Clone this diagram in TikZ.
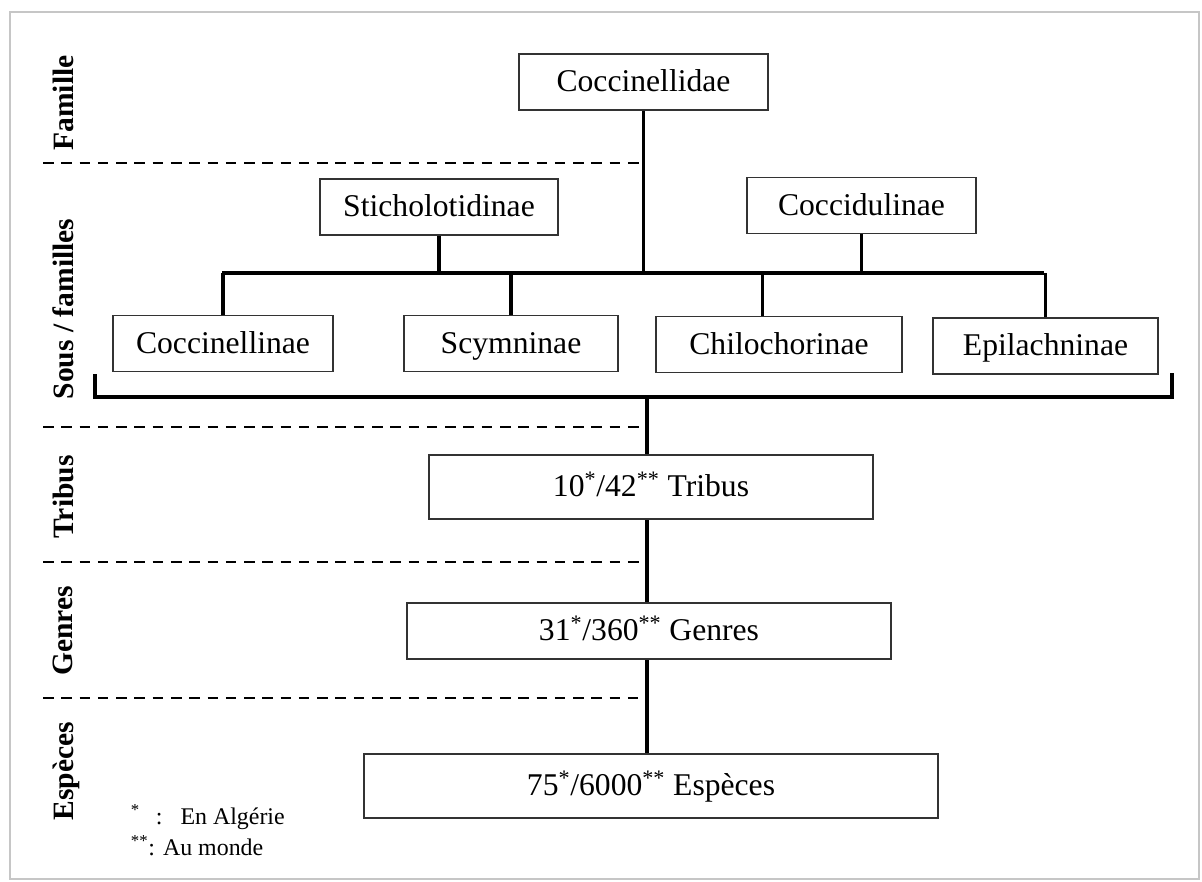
\documentclass[tikz,border=0pt]{standalone}
\usepackage{fontspec}
\setmainfont{Liberation Serif}
\usetikzlibrary{positioning}

\begin{document}
\begin{tikzpicture}[x=0.025cm, y=-0.025cm,
  taxon/.style={draw=black!80, line width=1.4pt, fill=white, inner sep=0pt,
    text height=17pt, text depth=3pt,
    minimum height=1.4cm, font=\fontsize{22.5}{26}\selectfont},
  rank/.style={rotate=90, font=\fontsize{21}{24}\selectfont\bfseries},
  link/.style={line width=2.2pt, black},
  sep/.style={line width=1.4pt, dash pattern=on 7.5pt off 5.5pt}]
\useasboundingbox (0,0) rectangle (1202,881);
\draw[gray!45, line width=2pt] (10,12) rectangle (1199,879);

% Rank labels
\node[rank] (lfam) at (63,103) {Famille};
\node[rank] (lsous) at (63,309) {Sous / familles};
\node[rank] (ltrib) at (63,497) {Tribus};
\node[rank] (lgen) at (63,631) {Genres};
\node[rank] (lesp) at (66,771) {Espèces};

% Rank separators
\draw[sep] (43,163) -- (643,163);
\draw[sep] (43,427) -- (647,427);
\draw[sep] (43,562) -- (647,562);
\draw[sep] (43,698) -- (638,698);

% Family and subfamilies
\node[taxon, minimum width=6.225cm] (coccinellidae) at (643.5,82) {Coccinellidae};
\node[taxon, minimum width=5.95cm] (sticholotidinae) at (439,207) {Sticholotidinae};
\node[taxon, minimum width=5.725cm] (coccidulinae) at (861.5,205.5) {Coccidulinae};
\node[taxon, minimum width=5.5cm] (coccinellinae) at (223,343.5) {Coccinellinae};
\node[taxon, minimum width=5.35cm] (scymninae) at (511,343.5) {Scymninae};
\node[taxon, minimum width=6.15cm] (chilochorinae) at (779,344.5) {Chilochorinae};
\node[taxon, minimum width=5.625cm] (epilachninae) at (1045.5,346) {Epilachninae};

% Tribes, genera, species
\node[taxon, minimum width=11.1cm, minimum height=1.6cm] (tribus) at (651,487) {10\textsuperscript{*}/42\textsuperscript{**} Tribus};
\node[taxon, minimum width=12.1cm] (genres) at (649,631) {31\textsuperscript{*}/360\textsuperscript{**} Genres};
\node[taxon, minimum width=14.35cm, minimum height=1.6cm] (especes) at (651,786) {75\textsuperscript{*}/6000\textsuperscript{**} Espèces};

% Tree
\coordinate (barL) at (222,273);
\coordinate (barR) at (1044,273);
\draw[link] (barL) -- (barR);
\draw[link] (coccinellidae.south) -- (coccinellidae.south |- barL);
\draw[link] (sticholotidinae.south) -- (sticholotidinae.south |- barL);
\draw[link] (coccidulinae.south) -- (coccidulinae.south |- barL);
\draw[link] (coccinellinae.north) -- (coccinellinae.north |- barL);
\draw[link] (scymninae.north) -- (scymninae.north |- barL);
\draw[link] ([xshift=-0.42cm]chilochorinae.north) -- ([xshift=-0.42cm]chilochorinae.north |- barL);
\draw[link] (epilachninae.north) -- (epilachninae.north |- barR);

% Bracket
\coordinate (brL) at (95,397);
\coordinate (brR) at (1172,397);
\coordinate (brM) at (647,397);
\draw[link] (95,374) -- (brL) -- (brR) -- (1172,373);
\draw[link] (brM) -- (brM |- tribus.north);
\draw[link] (brM |- tribus.south) -- (brM |- genres.north);
\draw[link] (brM |- genres.south) -- (brM |- especes.north);

% Legend
\node[anchor=west, font=\fontsize{17}{20}\selectfont] (leg1) at (126,817) {\textsuperscript{*}\,\ \ :\ \ \ En Algérie};
\node[anchor=west, font=\fontsize{17}{20}\selectfont] (leg2) at (126,846) {\textsuperscript{**}: Au monde};

\end{tikzpicture}
\end{document}
